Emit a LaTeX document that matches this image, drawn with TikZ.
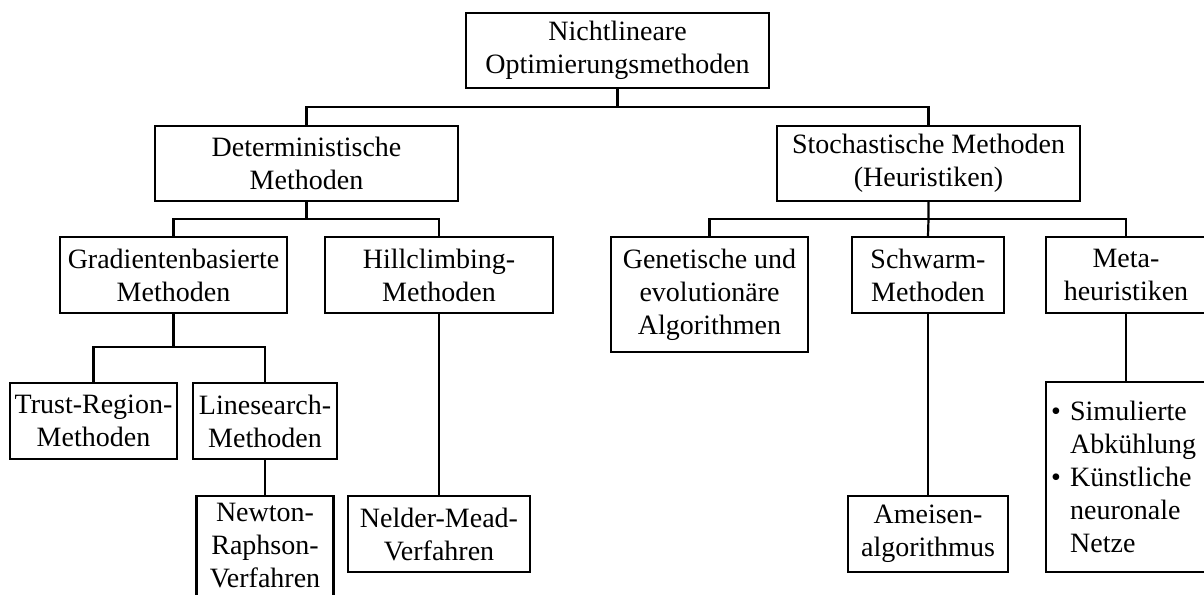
\documentclass[tikz,border=0pt]{standalone}
\usepackage{fontspec}
\setmainfont{Liberation Serif}
\begin{document}
\begin{tikzpicture}[x=1pt,y=-1pt,line width=2.2pt,font=\fontsize{28}{33}\selectfont,
	methbox/.style={draw,rectangle,inner sep=0pt,align=center}]
	\useasboundingbox (0,0) rectangle (1204,594);
	\clip (0,0) rectangle (1204,594);
	% Ebene 0 und 1
	\node[methbox,minimum width=303pt,minimum height=75pt] (nlo) at (617.5,50.5) {Nichtlineare\\Optimierungsmethoden};
	\node[methbox,minimum width=303pt,minimum height=75pt] (det) at (306.5,163.5) {Deterministische\\Methoden};
	\node[methbox,minimum width=303pt,minimum height=75pt] (sto) at (928.5,163.5) {Stochastische Methoden\\(Heuristiken)};
	% Ebene 2
	\node[methbox,minimum width=227pt,minimum height=76pt] (grad) at (173.5,275) {Gradientenbasierte\\Methoden};
	\node[methbox,minimum width=228pt,minimum height=76pt] (hill) at (439,275) {Hillclimbing-\\Methoden};
	\node[methbox,minimum width=197pt,minimum height=115pt] (gen) at (709.5,294.5) {Genetische und\\evolutionäre\\Algorithmen};
	\node[methbox,minimum width=152pt,minimum height=76pt] (schw) at (928,275) {Schwarm-\\Methoden};
	\node[methbox,minimum width=160pt,minimum height=76pt] (meta) at (1126,275) {Meta-\\heuristiken};
	% Ebene 3 und 4
	\node[methbox,minimum width=167pt,minimum height=76pt] (trust) at (93.5,421) {Trust-Region-\\Methoden};
	\node[methbox,minimum width=144pt,minimum height=76pt] (lsm) at (265,421) {Linesearch-\\Methoden};
	\node[methbox,minimum width=137pt,minimum height=100pt] (newton) at (265,546) {Newton-\\Raphson-\\Verfahren};
	\node[methbox,minimum width=182pt,minimum height=76pt] (nelder) at (439,534) {Nelder-Mead-\\Verfahren};
	\node[methbox,minimum width=160pt,minimum height=76pt] (ameise) at (928,534) {Ameisen-\\algorithmus};
	\node[methbox,minimum width=160pt,minimum height=190pt,inner xsep=5pt,text width=150pt,align=left] (heur) at (1126,477) {\textbullet\ Simulierte\\\phantom{\textbullet\ }Abkühlung\\\textbullet\ Künstliche\\\phantom{\textbullet\ }neuronale\\\phantom{\textbullet\ }Netze};
	% Verzweigungen
	\coordinate (b0) at (617.5,107);
	\coordinate (b1) at (306.5,219);
	\coordinate (b2) at (928.5,219);
	\coordinate (b3) at (173.5,347);
	\draw (nlo.south) -- (b0);
	\draw (det.north) |- (b0) -| (sto.north);
	\draw (det.south) -- (b1);
	\draw (grad.north) |- (b1) -| (hill.north);
	\draw (sto.south) -- (b2) -- (schw.north);
	\draw (gen.north) |- (b2) -| (meta.north);
	\draw (grad.south) -- (b3);
	\draw (trust.north) |- (b3) -| (lsm.north);
	\foreach \a/\b in {lsm/newton,hill/nelder,schw/ameise,meta/heur}{
		\draw (\a.south) -- (\b.north);
	}
\end{tikzpicture}
\end{document}
